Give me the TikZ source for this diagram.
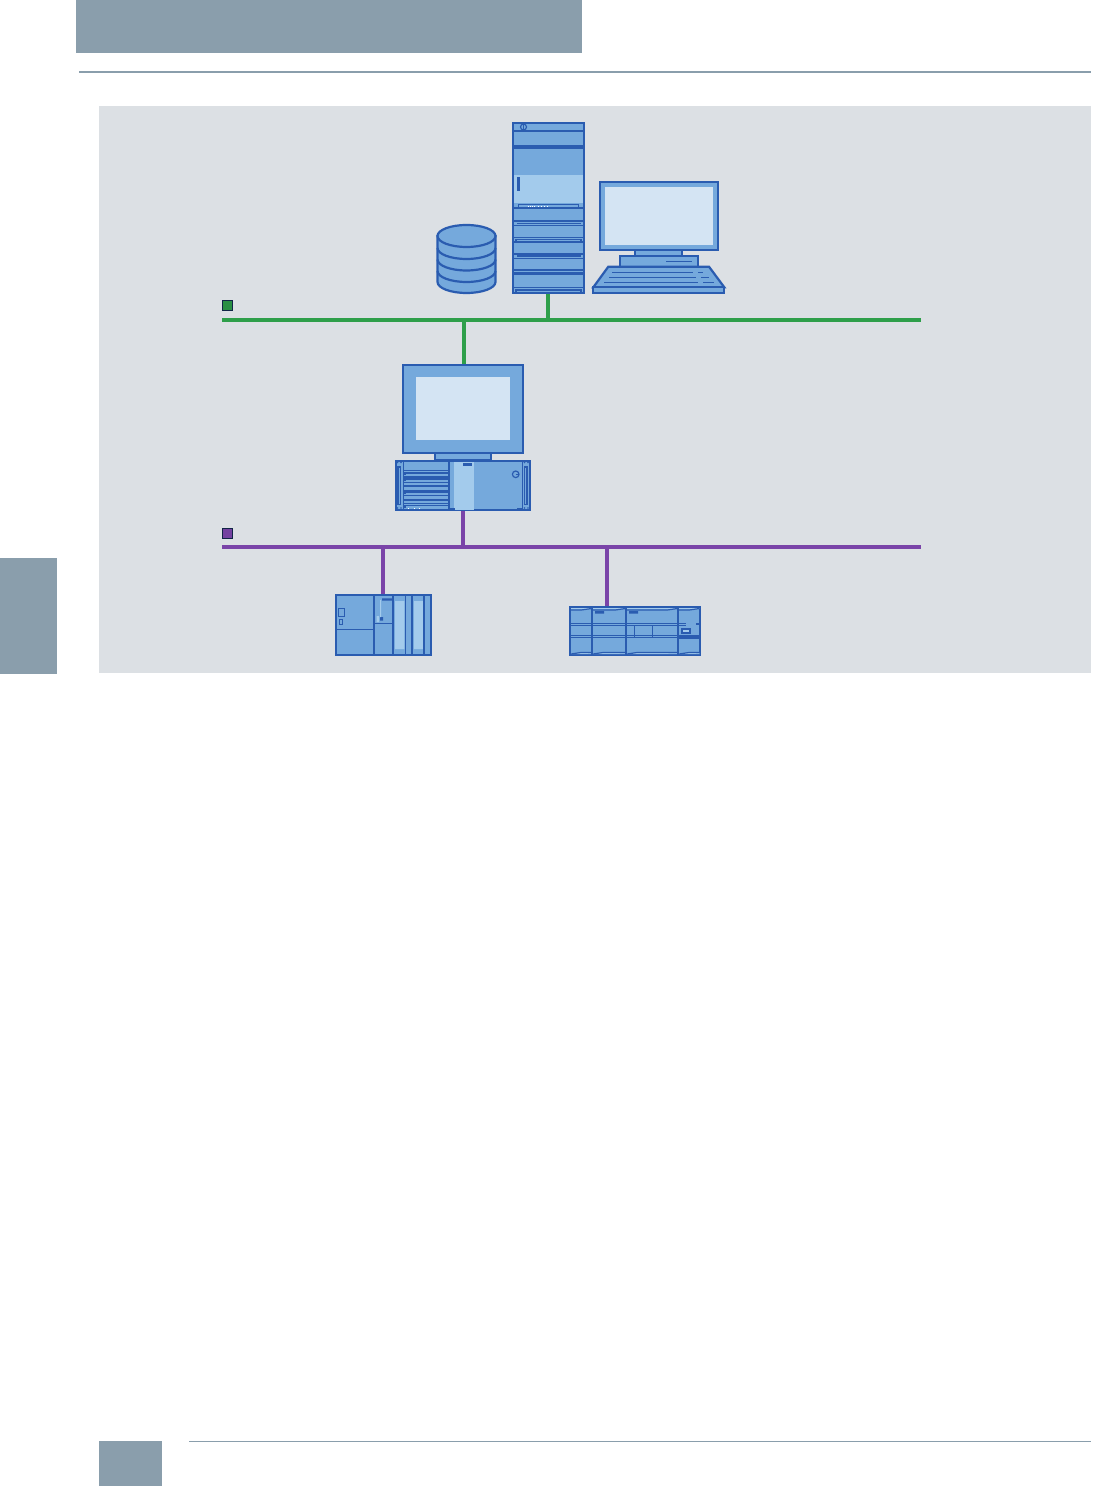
\documentclass[tikz,border=0pt]{standalone}
\usetikzlibrary{fit}
\begin{document}
\begin{tikzpicture}[x=0.5pt,y=-0.5pt]
\definecolor{CHROME}{HTML}{8A9EAC}
\definecolor{PANEL}{HTML}{DCE0E4}
\definecolor{DEVFILL}{HTML}{75A9DC}
\definecolor{DEVLINE}{HTML}{2A5CB0}
\definecolor{DEVLIGHT}{HTML}{A3CBEC}
\definecolor{SCREEN}{HTML}{D4E4F3}
\definecolor{GREENBUS}{HTML}{2E9F4A}
\definecolor{PURPLEBUS}{HTML}{7A44A8}
\tikzset{
  devbox/.style={draw=DEVLINE,fill=DEVFILL,line width=1.1pt,inner sep=0pt},
  screenbox/.style={fill=SCREEN,inner sep=0pt},
  thin line/.style={draw=DEVLINE,line width=.6pt},
  thick line/.style={draw=DEVLINE,line width=1.1pt},
  lightbar/.style={fill=DEVLIGHT},
  darkbar/.style={fill=DEVLINE},
  greenbus/.style={draw=GREENBUS,line width=1.75pt},
  purplebus/.style={draw=PURPLEBUS,line width=1.75pt},
  legendbox/.style={draw=black!60!DEVLINE,line width=.35pt,inner sep=0pt}
}
\useasboundingbox (0,0) rectangle (1092,1486);
\fill[white] (0,0) rectangle (1092,1486);
% page furniture
\fill[CHROME] (76,0) rectangle (582,53);
\draw[CHROME,line width=1pt] (79,72)--(1091,72);
\fill[CHROME] (0,558) rectangle (57,674);
\fill[CHROME] (99,1441) rectangle (162,1486);
\draw[CHROME,line width=.4pt] (189,1441.5)--(1091,1441.5);
\fill[PANEL] (99,106) rectangle (1091,673);
% buses
\coordinate (greenL) at (222,320);
\coordinate (greenR) at (921,320);
\coordinate (purpleL) at (222,547);
\coordinate (purpleR) at (921,547);
\coordinate (teeTower) at (548,320);
\coordinate (teePC) at (464,320);
\coordinate (teeRack) at (463,547);
\coordinate (teeModular) at (383,547);
\coordinate (teeCompact) at (607,547);
\node[legendbox,fill=GREENBUS!90!black,fit={(222.5,300.5)(232.5,310.5)}] (greenkey) {};
\node[legendbox,fill=PURPLEBUS!95!black,fit={(222.5,528.5)(232.5,538.5)}] (purplekey) {};
% tower server
\node[devbox,fit={(513,123)(584,293)}] (tower) {};
\fill[lightbar] (514,175) rectangle (583,203);
\fill[darkbar] (517,177) rectangle (520,191);
\draw[thin line] (523.5,127) circle (3);
\draw[thin line] (523.5,124.5)--(523.5,129.5);
\foreach \y in {131,148,225.7,237.3,242,258.7,270,274.3,287.3}{\draw[thin line] (513,\y)--(584,\y);}
\foreach \y in {146,208,221,253.7,272.7}{\draw[thick line] (513,\y)--(584,\y);}
\draw[thin line] (518.3,204.5) rectangle (578.7,208);
\foreach \y in {223.5,256}{\draw[thin line] (517,\y)--(581,\y);}
\draw[thin line] (516,239.5) rectangle (581,242);
\draw[thin line] (516,290) rectangle (581,293);
\foreach \x in {528,530,532,534,538,541,544,546.5}{\fill[white] (\x,205.7) rectangle ++(1,1);}
% database
\path[devbox] (437.5,236) -- (437.5,282) arc[start angle=180,end angle=360,x radius=29,y radius=-11] -- (495.5,236) -- cycle;
\foreach \y in {248,259.5,271}{\draw[thick line] (437.5,\y) arc[start angle=180,end angle=360,x radius=29,y radius=-11];}
\draw[devbox] (466.5,236) ellipse[x radius=29,y radius=11];
% desktop station
\node[devbox,fit={(600,182)(718,250)}] (station) {};
\node[screenbox,fit={(605,187)(713,245)}] (stationscreen) {};
\draw[devbox] (635,250) rectangle (682.3,255.7);
\draw[devbox] (619.7,255.7) rectangle (698.3,266.7);
\draw[thin line] (666,261.7)--(692,261.7);
\draw[devbox] (608.3,266.7)--(709,266.7)--(724.3,287.3)--(593.3,287.3)--cycle;
\draw[devbox] (593.3,287.3) rectangle (724.3,293);
\foreach \y/\a/\b/\c/\d in {272.3/612/693.3/698/702.7,277.3/609/696/701/709,282.3/604/697.7/703.3/714}{
  \draw[thin line] (\a,\y)--(\b,\y) (\c,\y)--(\d,\y);}
% panel pc
\node[devbox,fit={(403,365)(523,453)}] (panelpc) {};
\node[screenbox,fit={(416,377)(510,440)}] (panelscreen) {};
\draw[devbox] (435,453)rectangle (491,460);
\node[devbox,fit={(396,461)(530,510)}] (rack) {};
\fill[lightbar] (454,461.5) rectangle (474,509.5);
\fill[darkbar] (463,463) rectangle (472,465.7);
\draw[thin line] (403.3,461)--(403.3,510) (522.7,461)--(522.7,510);
\draw[thick line] (449.3,461)--(449.3,510);
\draw[thin line,fill=DEVFILL] (398,467) rectangle (400.7,504.3);
\draw[thin line,fill=DEVFILL] (524.3,467) rectangle (527,504.3);
\draw[thin line] (515.7,474.3) circle (3.3);
\draw[thin line] (515.7,474.3)--(519,474.3);
\foreach \y in {470.3,477,482.3,490.3,495.7,503.7}{\draw[thin line] (403.3,\y)--(449.3,\y);}
\foreach \y in {486.3,499.7}{\draw[thick line] (403.3,\y)--(449.3,\y);}
\foreach \y in {473,479,492,505.7}{\draw[thin line] (405,\y+2.4)--(405,\y)--(448.3,\y)--(448.3,\y+2.4);}
\foreach \x in {408.3,414,419.3}{\fill[white] (\x,507.8) rectangle ++(1,1);}
\foreach \x/\z in {449.3/455,517/522.7}{\draw[thick line] (\x,509.5)--(\z,509.5);}
\foreach \x in {397.5,401,524.5,528}{\foreach \y in {462.5,508}{\fill[DEVLINE] (\x,\y) circle (.9);}}
% modular controller
\node[devbox,fit={(336,595)(431,655)}] (plcA) {};
\fill[lightbar] (395,601) rectangle (404.3,649) (414,601) rectangle (423.3,649);
\draw[thick line] (374,595)--(374,655) (393,595)--(393,655) (411.7,595)--(411.7,655);
\draw[thin line] (405.3,595)--(405.3,655) (424,595)--(424,655);
\draw[thin line] (336,629.3)--(374,629.3) (374,623.3)--(393,623.3);
\draw[thin line] (338.3,608.3) rectangle (344.7,616.7);
\draw[thin line] (339.3,619.3) rectangle (342.7,624.7);
\fill[darkbar] (382,598.3) rectangle (392.5,600.7) (380,617) rectangle (383,620.7);
\fill[DEVLIGHT] (380,600) rectangle (381,617) (376.7,616) rectangle (379,622);
% compact controller
\node[devbox,fit={(570,607)(700,655)}] (plcB) {};
\foreach \a/\b in {571/591.5,593/625.5,627/677.5,679/699.5}{
  \fill[DEVLIGHT] (\a,608)--(\b,608)--(\b,608.7)--(\a,609.2)--cycle (\a,654)--(\b,654)--(\b,653.3)--(\a,653)--cycle;
  \draw[thin line] (\a,610)--(\b-10,610)--(\b,608.5) (\a,654)--(\a+10,652.5)--(\b,652.5);}
\draw[thick line] (592,607)--(592,655) (626,607)--(626,655) (678,607)--(678,655);
\foreach \y in {623.7,625.3,635.7,637.7}{\draw[thin line] (570,\y)--(686,\y);}
\draw[thin line] (696,624)--(700,624) (678,636)--(700,636) (678,638)--(700,638);
\draw[thin line] (634.3,625)--(634.3,638) (652.3,625)--(652.3,638);
\fill[darkbar] (595,611) rectangle (604,613.7) (629,611) rectangle (638,613.7);
\draw[thin line,fill=DEVLIGHT] (682,629) rectangle (690,633);
% connectors
\draw[greenbus] (greenL)--(greenR);
\draw[purplebus] (purpleL)--(purpleR);
\draw[greenbus] (teeTower)--(teeTower |- tower.south);
\draw[greenbus] (teePC)--(teePC |- panelpc.north);
\draw[purplebus] (teeRack)--(teeRack |- rack.south);
\draw[purplebus] (teeModular)--(teeModular |- plcA.north);
\draw[purplebus] (teeCompact)--(teeCompact |- plcB.north);
\end{tikzpicture}
\end{document}
